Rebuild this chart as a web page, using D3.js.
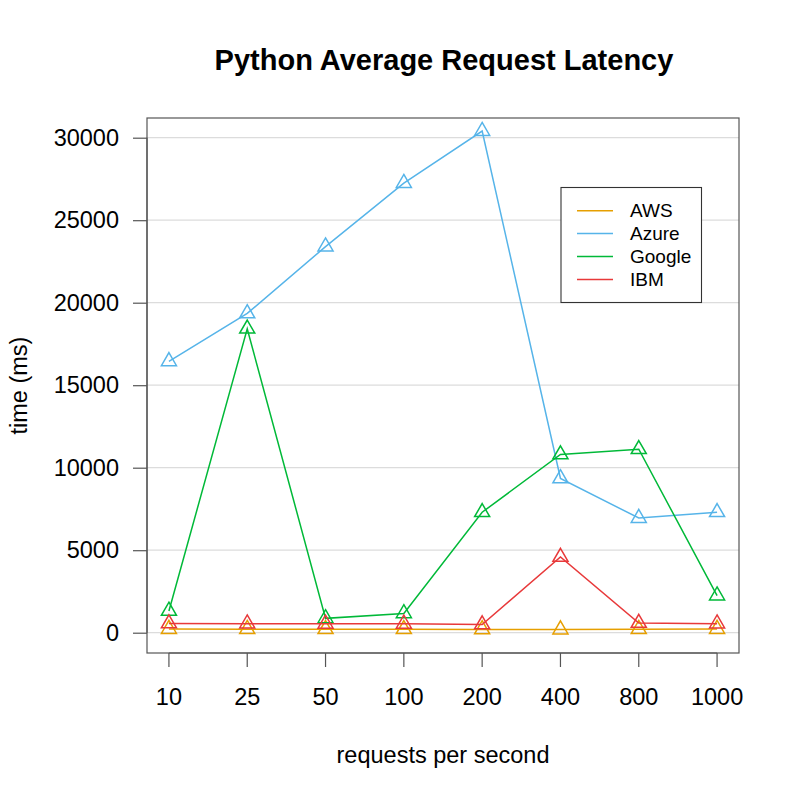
<!DOCTYPE html>
<html><head><meta charset="utf-8">
<script src="https://cdn.jsdelivr.net/npm/d3@7"></script>
<style>body{margin:0;background:#fff}svg{display:block}text{font-family:"Liberation Sans",Arial,sans-serif;fill:#000}</style>
</head><body><svg id="c" width="800" height="800"></svg>
<script>
const categories = ["10","25","50","100","200","400","800","1000"];
const seriesNames = ["AWS","Azure","Google","IBM"];
const awsValues    = [220, 215, 210, 210, 200, 190, 215, 220];
const azureValues  = [16450, 19350, 23400, 27250, 30400, 9350, 6950, 7300];
const googleValues = [1320, 18420, 870, 1170, 7300, 10800, 11120, 2250];
const ibmValues    = [560, 550, 540, 540, 500, 4590, 590, 550];
const yTicks = [0, 5000, 10000, 15000, 20000, 25000, 30000];
const colors = ["#E69F00", "#56B4E9", "#00B938", "#E8393A"];
const title = "Python Average Request Latency";
const xLabel = "requests per second";
const yLabel = "time (ms)";

const series = [awsValues, azureValues, googleValues, ibmValues].map((v,i)=>({name:seriesNames[i], values:v, color:colors[i]}));

const svg = d3.select("#c");
const L=147, R=739, T=118, B=653;
const FS=23.5;

// R-style 4% extension around category indices 1..n
const xPos = d3.scaleLinear().domain([0.72, categories.length+0.28]).range([L, R]);
const xs = c => xPos(categories.indexOf(c)+1);
const y = d3.scaleLinear().domain([-1230, 31194]).range([B, T]);

// gridlines
svg.append("g").selectAll("line").data(yTicks).join("line")
  .attr("x1", L).attr("x2", R).attr("y1", d=>y(d)).attr("y2", d=>y(d))
  .attr("stroke", "#dcdcdc").attr("stroke-width", 1.2);

// box
svg.append("rect").attr("x", L).attr("y", T).attr("width", R-L).attr("height", B-T)
  .attr("fill","none").attr("stroke","#555").attr("stroke-width",1.2);

// y axis
const yAxis = d3.axisLeft(y).tickValues(yTicks).tickSize(14).tickPadding(14).tickFormat(d3.format("d"));
const gy = svg.append("g").attr("transform", `translate(${L},0)`).call(yAxis);
gy.select(".domain").attr("d", `M0,${y(0)}V${y(30000)}`).attr("stroke","#555").attr("stroke-width",1.2);
gy.selectAll(".tick line").attr("stroke","#555").attr("stroke-width",1.2);
gy.selectAll(".tick text").attr("font-size", FS).attr("font-family",'"Liberation Sans",Arial,sans-serif').attr("fill","#000");

// x axis
const gx = svg.append("g").attr("transform", `translate(0,${B})`);
gx.append("path").attr("d", `M${xs(categories[0])},0H${xs(categories[categories.length-1])}`).attr("stroke","#555").attr("stroke-width",1.2);
const xt = gx.selectAll("g.tick").data(categories).join("g").attr("class","tick").attr("transform", d=>`translate(${xs(d)},0)`);
xt.append("line").attr("y2", 14).attr("stroke","#555").attr("stroke-width",1.2);
xt.append("text").attr("y", 52).attr("text-anchor","middle").attr("font-size", FS).text(d=>d);

// lines and points
const line = d3.line().x((d,i)=>xs(categories[i])).y(d=>y(d));
const tri = (r)=>`M0,${-r}L${r*0.866},${r/2}L${-r*0.866},${r/2}Z`;
series.forEach(s=>{
  svg.append("path").attr("d", line(s.values)).attr("fill","none").attr("stroke", s.color).attr("stroke-width",1.5);
  svg.append("g").selectAll("path").data(s.values).join("path")
    .attr("transform",(d,i)=>`translate(${xs(categories[i])},${y(d)})`)
    .attr("d", tri(8.7)).attr("fill","none").attr("stroke", s.color).attr("stroke-width",1.5);
});

// legend
const lg = svg.append("g");
lg.append("rect").attr("x",561).attr("y",187.5).attr("width",140.5).attr("height",115)
  .attr("fill","#fff").attr("stroke","#333").attr("stroke-width",1.1);
series.forEach((s,i)=>{
  const yy = 210.7 + i*22.9;
  lg.append("line").attr("x1",577).attr("x2",613).attr("y1",yy).attr("y2",yy).attr("stroke",s.color).attr("stroke-width",1.5);
  lg.append("text").attr("x",630).attr("y",yy).attr("dy","0.35em").attr("font-size",19).text(s.name);
});

// titles
svg.append("text").attr("x",(L+R)/2+1).attr("y",70).attr("text-anchor","middle").attr("font-size",29).attr("font-weight","bold").text(title);
svg.append("text").attr("x",(L+R)/2).attr("y",763).attr("text-anchor","middle").attr("font-size",FS).text(xLabel);
svg.append("text").attr("transform",`translate(27,${(T+B)/2}) rotate(-90)`).attr("text-anchor","middle").attr("font-size",FS).text(yLabel);
</script></body></html>
